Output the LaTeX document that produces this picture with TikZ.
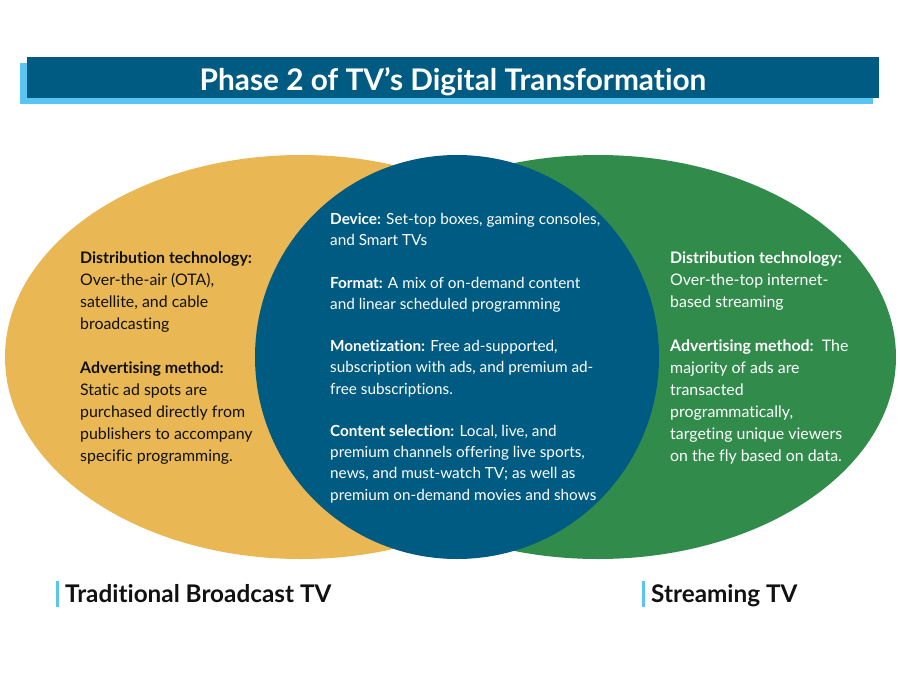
\documentclass[tikz,border=0pt]{standalone}
\usepackage{fontspec}
\setmainfont{Lato}[Ligatures={NoCommon,NoRare}]
\definecolor{tvblue}{HTML}{005B82}
\definecolor{tvsky}{HTML}{5BC5F2}
\definecolor{tvgold}{HTML}{E9B753}
\definecolor{tvgreen}{HTML}{318C4B}
\definecolor{tvink}{HTML}{111111}
\begin{document}
\begin{tikzpicture}
  [x=1pt,y=-1pt,
   every node/.style={inner sep=0pt,anchor=north west,align=left,font=\fontsize{15.9}{22}\selectfont},
   label/.style={anchor=base west,text=tvink,font=\fontsize{24.3}{28}\selectfont\bfseries}]
  \useasboundingbox (0,0) rectangle (900,675);

  \fill[tvsky] (20,63) rectangle (873,104);
  \fill[tvblue] (27,57) rectangle (879,98);
  \node[anchor=base,text=white,font=\fontsize{29.8}{32}\selectfont\bfseries] (title) at (453,90)
    {Phase 2 of TV’s Digital Transformation};

  \fill[tvgold] (301,357) ellipse [x radius=296pt,y radius=202pt];
  \fill[tvgreen] (598,357) ellipse [x radius=298pt,y radius=202pt];
  \fill[tvblue] (457,357) circle [radius=202pt];

  \node[text=tvink] (broadcast) at (80,251)
    {\textbf{Distribution technology:}\\ Over-the-air (OTA),\\ satellite, and cable\\ broadcasting\\[22pt]
     \textbf{Advertising method:}\\ Static ad spots are\\ purchased directly from\\ publishers to accompany\\ specific programming.};

  \node[text=white,font=\fontsize{15.3}{21.2}\selectfont] (shared) at (330,213)
    {\textbf{Device:} Set-top boxes, gaming consoles,\\ and Smart TVs\\[21.2pt]
     \textbf{Format:} A mix of on-demand content\\ and linear scheduled programming\\[21.2pt]
     \textbf{Monetization:} Free ad-supported,\\ subscription with ads, and premium ad-\\ free subscriptions.\\[21.2pt]
     \textbf{Content selection:} Local, live, and\\ premium channels offering live sports,\\ news, and must-watch TV; as well as\\ premium on-demand movies and shows};

  \node[text=white] (streaming) at (670,251)
    {\textbf{Distribution technology:}\\ Over-the-top internet-\\ based streaming\\[22pt]
     \textbf{Advertising method:}\ \ The\\ majority of ads are\\ transacted\\ programmatically,\\ targeting unique viewers\\ on the fly based on data.};

  \node[label] (tradtv) at (65,602) {Traditional Broadcast TV};
  \node[label] (streamtv) at (651,602) {Streaming TV};
  \fill[tvsky] (56,581) rectangle (59,607);
  \fill[tvsky] (642,581) rectangle (645,607);
\end{tikzpicture}
\end{document}
